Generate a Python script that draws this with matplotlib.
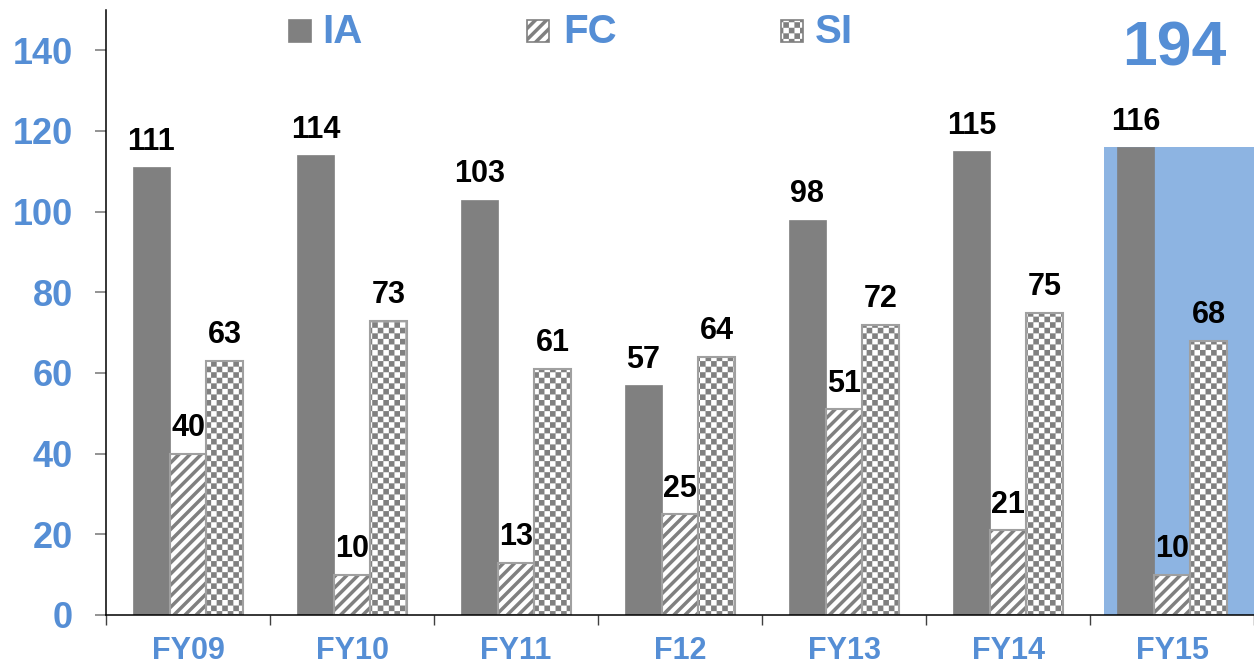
import warnings
import numpy as np
import matplotlib
matplotlib.use("Agg")
import matplotlib.pyplot as plt
from matplotlib import hatch as mhatch
from matplotlib.patches import Rectangle
from matplotlib.path import Path

warnings.filterwarnings("ignore", message=".*hatch must consist.*")

years = ["FY09", "FY10", "FY11", "F12", "FY13", "FY14", "FY15"]
ia = [111, 114, 103, 57, 98, 115, 116]
fc = [40, 10, 13, 25, 51, 21, 10]
si = [63, 73, 61, 64, 72, 75, 68]
total_label = "194"
highlight_top = 116

BLUE = "#558ED5"
GREY = "#808080"
EDGE = "#A0A0A0"
HL = "#8DB4E2"


# checkerboard hatch ('k'), matplotlib has none built in
class CheckerHatch(mhatch.HatchPatternBase):
    def __init__(self, hatch, density):
        self.n = hatch.count("k") * 18
        self.cells = [(i, j) for i in range(self.n) for j in range(self.n)
                      if (i + j) % 2 == 0]
        self.num_vertices = len(self.cells) * 5

    def set_vertices_and_codes(self, vertices, codes):
        n = self.n
        e = 0.017
        k = 0
        for i, j in self.cells:
            x0, y0 = i / n + e, j / n + e
            x1, y1 = (i + 1) / n - e, (j + 1) / n - e
            vertices[k:k + 5] = [[x0, y0], [x1, y0], [x1, y1], [x0, y1], [x0, y0]]
            codes[k:k + 5] = [Path.MOVETO, Path.LINETO, Path.LINETO,
                              Path.LINETO, Path.CLOSEPOLY]
            k += 5


# wider spaced diagonal ('d')
class DiagHatch(mhatch.HatchPatternBase):
    def __init__(self, hatch, density):
        self.n = hatch.count("d") * 9
        self.num_vertices = (2 * self.n + 1) * 2 if self.n else 0

    def set_vertices_and_codes(self, vertices, codes):
        n = self.n
        k = 0
        for i in range(-n, n + 1):
            vertices[k:k + 2] = [[i / n, 0.0], [i / n + 1.0, 1.0]]
            codes[k:k + 2] = [Path.MOVETO, Path.LINETO]
            k += 2


mhatch._hatch_types.append(CheckerHatch)
mhatch._hatch_types.append(DiagHatch)

plt.rcParams["font.family"] = ["Liberation Sans", "DejaVu Sans"]
plt.rcParams["font.weight"] = "bold"
plt.rcParams["hatch.linewidth"] = 2.5

fig = plt.figure(figsize=(12.54, 6.65), dpi=100)
ax = fig.add_axes([106 / 1254, 50 / 665, 1148 / 1254, 605 / 665])

x = np.arange(len(years))
w = 0.223

ax.add_patch(Rectangle((5.585, 0), 0.915, highlight_top, facecolor=HL,
                       edgecolor="none", zorder=0.5))

ax.bar(x - w, ia, w, color=GREY, edgecolor=GREY, linewidth=0.5, zorder=2)
ax.bar(x, fc, w, color="white", edgecolor=GREY, hatch="d", linewidth=0, zorder=2)
ax.bar(x + w, si, w, color="white", edgecolor=GREY, hatch="k", linewidth=0, zorder=2)
# light outlines on the patterned bars
ax.bar(x, fc, w, fill=False, edgecolor=EDGE, linewidth=1.5, zorder=2.1)
ax.bar(x + w, si, w, fill=False, edgecolor=EDGE, linewidth=1.5, zorder=2.1)

for vals, off in [(ia, -w), (fc, 0), (si, w)]:
    for xi, v in zip(x, vals):
        ax.text(xi + off, v + 2.6, str(v), ha="center", va="bottom",
                fontsize=22, fontweight="bold", color="black", zorder=3)

ax.set_xlim(-0.5, 6.5)
ax.set_ylim(0, 150)
ax.set_yticks(range(0, 141, 20))
ax.set_xticks(x)
ax.set_xticklabels(years)
ax.set_xticks(np.arange(-0.5, 6.6, 1), minor=True)

ax.tick_params(axis="y", labelsize=26, labelcolor=BLUE, color=GREY,
               length=8, width=1.2, pad=16)
ax.tick_params(axis="x", which="major", labelsize=22, labelcolor=BLUE,
               length=0, pad=15)
ax.tick_params(axis="x", which="minor", color="#404040", length=7, width=1.0)

for s in ["top", "right"]:
    ax.spines[s].set_visible(False)
for s in ["left", "bottom"]:
    ax.spines[s].set_linewidth(1.1)
    ax.spines[s].set_color("black")

# legend drawn by hand on top of the plot
leg = [("IA", dict(facecolor=GREY, edgecolor=GREY), 289, 322),
       ("FC", dict(facecolor="white", edgecolor=GREY, hatch="d"), 527, 563),
       ("SI", dict(facecolor="white", edgecolor=GREY, hatch="k"), 781, 815)]
for name, style, mx, tx in leg:
    fig.add_artist(Rectangle((mx / 1254, 1 - 42 / 665), 22 / 1254, 22 / 665,
                             transform=fig.transFigure, linewidth=1.2, **style))
    fig.text(tx / 1254, 1 - 43 / 665, name, ha="left", va="baseline",
             fontsize=29, fontweight="bold", color=BLUE)

fig.text(1174 / 1254, 1 - 65 / 665, total_label, ha="center", va="baseline",
         fontsize=45, fontweight="bold", color=BLUE)

fig.savefig("out.png", dpi=100)
